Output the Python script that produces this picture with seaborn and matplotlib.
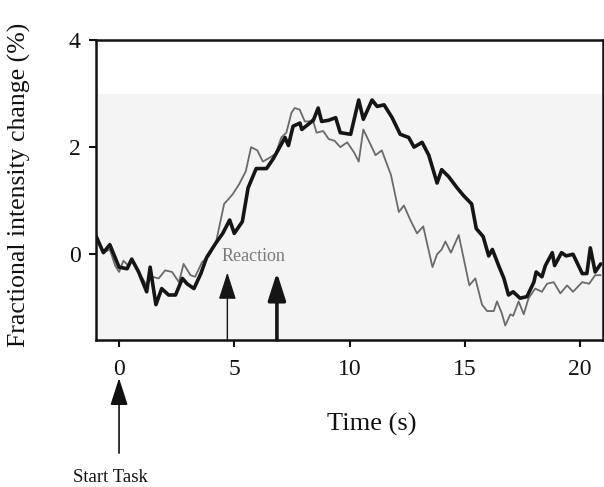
import matplotlib
matplotlib.use("Agg")
import matplotlib.pyplot as plt
import seaborn as sns
import pandas as pd

# ---- data ----
thick_t = [-1.05, -0.68, -0.4, 0.0, 0.35, 0.55, 0.85, 1.2, 1.35, 1.6, 1.85, 2.15, 2.45, 2.75, 2.95,
           3.25, 3.55, 3.8, 4.2, 4.5, 4.8, 5.0, 5.35, 5.6, 5.95, 6.4, 6.7, 6.97, 7.2, 7.35, 7.55,
           7.85, 7.93, 8.28, 8.43, 8.64, 8.79, 9.08, 9.4, 9.6, 10.05, 10.4, 10.6, 10.98, 11.2,
           11.5, 11.85, 12.2, 12.57, 12.8, 13.15, 13.44, 13.8, 14.0, 14.3, 14.67, 14.96, 15.3,
           15.5, 15.8, 16.04, 16.2, 16.47, 16.7, 16.9, 17.1, 17.4, 17.7, 18.0, 18.1, 18.35, 18.5,
           18.8, 18.9, 19.2, 19.4, 19.7, 20.1, 20.3, 20.45, 20.66, 20.9]
thick_y = [0.39, 0.03, 0.18, -0.24, -0.27, -0.09, -0.33, -0.70, -0.24, -0.94, -0.64, -0.76, -0.76,
           -0.45, -0.55, -0.64, -0.36, -0.06, 0.21, 0.39, 0.64, 0.39, 0.61, 1.24, 1.60, 1.60, 1.79,
           2.0, 2.18, 2.03, 2.39, 2.45, 2.33, 2.45, 2.50, 2.73, 2.48, 2.50, 2.55, 2.27, 2.24, 2.88,
           2.52, 2.88, 2.76, 2.79, 2.55, 2.24, 2.18, 2.0, 2.09, 1.85, 1.33, 1.58, 1.45, 1.24, 1.09,
           0.94, 0.48, 0.33, -0.03, 0.09, -0.21, -0.45, -0.76, -0.70, -0.82, -0.79, -0.52, -0.33,
           -0.42, -0.21, 0.03, -0.21, 0.03, -0.03, 0.0, -0.36, -0.36, 0.12, -0.33, -0.18]

thin_t = [-1.05, -0.68, -0.4, -0.17, 0.0, 0.19, 0.4, 0.55, 0.85, 1.2, 1.43, 1.72, 2.0, 2.3, 2.6,
          2.8, 3.1, 3.3, 3.6, 3.9, 4.2, 4.56, 4.93, 5.2, 5.5, 5.73, 6.0, 6.24, 6.6, 6.8, 7.04,
          7.26, 7.48, 7.62, 7.84, 8.06, 8.28, 8.4, 8.57, 8.86, 9.1, 9.35, 9.6, 9.9, 10.2, 10.4,
          10.6, 10.9, 11.13, 11.4, 11.8, 12.14, 12.36, 12.64, 12.93, 13.2, 13.6, 13.8, 14.0,
          14.16, 14.4, 14.74, 14.96, 15.2, 15.46, 15.75, 15.97, 16.26, 16.4, 16.6, 16.76, 16.98,
          17.1, 17.34, 17.56, 17.77, 18.06, 18.35, 18.57, 18.86, 19.15, 19.44, 19.7, 20.1, 20.4,
          20.66, 20.9]
thin_y = [0.39, 0.03, 0.09, -0.21, -0.33, -0.12, -0.21, -0.09, -0.33, -0.58, -0.42, -0.45, -0.30,
          -0.33, -0.52, -0.18, -0.39, -0.42, -0.15, -0.03, 0.21, 0.94, 1.12, 1.30, 1.55, 2.0, 1.94,
          1.73, 1.82, 1.88, 2.18, 2.27, 2.64, 2.73, 2.70, 2.48, 2.48, 2.52, 2.27, 2.30, 2.15, 2.12,
          2.0, 2.09, 1.90, 1.73, 2.33, 2.06, 1.85, 1.94, 1.48, 0.79, 0.91, 0.64, 0.39, 0.52, -0.24,
          0.0, 0.09, 0.24, 0.03, 0.36, -0.09, -0.58, -0.45, -0.94, -1.06, -1.06, -0.88, -1.09,
          -1.33, -1.12, -1.15, -0.88, -1.12, -0.82, -0.64, -0.70, -0.55, -0.52, -0.73, -0.58,
          -0.70, -0.52, -0.55, -0.39, -0.39]

xticks = [0, 5, 10, 15, 20]
yticks = [0, 2, 4]
reaction_times = [4.7, 6.85]

sns.set_theme(style="ticks")
plt.rcParams['font.family'] = ['Liberation Serif', 'DejaVu Serif']

fig = plt.figure(figsize=(6.04, 4.87), dpi=100)
ax = fig.add_axes([96/604, 1-340/487, (603-96)/604, 300/487])

ax.axhspan(-1.6, 3.0, color='#f4f4f4', zorder=0, lw=0)

df_thin = pd.DataFrame({"t": thin_t, "y": thin_y})
df_thick = pd.DataFrame({"t": thick_t, "y": thick_y})
sns.lineplot(data=df_thin, x="t", y="y", ax=ax, color="#6a6a6a", lw=1.3, sort=False, zorder=3)
sns.lineplot(data=df_thick, x="t", y="y", ax=ax, color="#151515", lw=2.6, sort=False, zorder=4)

ax.set_xlim(-1, 21)
ax.set_ylim(-1.6, 4)
ax.set_xticks(xticks)
ax.set_yticks(yticks)
ax.tick_params(axis='both', labelsize=17, width=1.5, length=5, direction='out', colors='#111111')
ax.tick_params(axis='x', pad=9)
ax.tick_params(axis='y', pad=6)
for s in ax.spines.values():
    s.set_linewidth(1.8)
    s.set_color('#111111')

ax.set_xlabel("Time (s)", fontsize=19, color='#111111')
ax.set_ylabel("Fractional intensity change (%)", fontsize=18.5, color='#111111')
ax.xaxis.set_label_coords(0.544, -0.243)
ax.yaxis.set_label_coords(-0.128, 0.517)

# reaction arrows
for t, w in zip(reaction_times, [1.0, 2.6]):
    ax.annotate("", xy=(t, -0.34), xytext=(t, -1.6),
                arrowprops=dict(arrowstyle="-|>,head_length=1.4,head_width=0.45",
                                lw=w, color='#151515', shrinkA=0, shrinkB=0),
                zorder=5, annotation_clip=False)
ax.text(5.85, -0.05, "Reaction", fontsize=13, color='#7a7a7a', ha='center', va='center')

# start task arrow
ax.annotate("", xy=(0, -0.127), xytext=(0, -0.377),
            xycoords=('data', 'axes fraction'), textcoords=('data', 'axes fraction'),
            arrowprops=dict(arrowstyle="-|>,head_length=1.4,head_width=0.45",
                            lw=1.2, color='#111111', shrinkA=0, shrinkB=0),
            annotation_clip=False)
ax.text(-0.36, -0.457, "Start Task", transform=ax.get_xaxis_transform(),
        fontsize=13.5, ha='center', va='center', color='#111111')

fig.savefig("out.png", dpi=100)
